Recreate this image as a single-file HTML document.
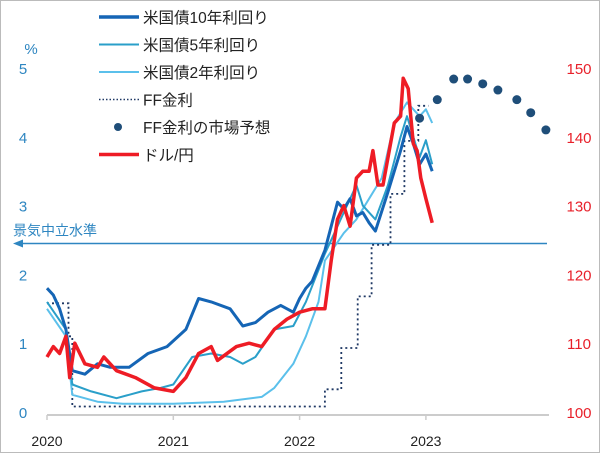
<!DOCTYPE html>
<html><head><meta charset="utf-8"><style>
body{margin:0;background:#fff;}
#wrap{width:598px;height:451px;border:1px solid #bbb;position:relative;overflow:hidden;font-family:"Liberation Sans","Noto Sans CJK JP",sans-serif;}
text{font-family:"Liberation Sans","Noto Sans CJK JP",sans-serif;}
</style></head><body>
<div id="wrap">
<svg id="c" width="598" height="451"></svg>
</div>
<script>
const t10=[2020,2020.05,2020.1,2020.15,2020.2,2020.3,2020.4,2020.5,2020.65,2020.8,2020.95,2021.1,2021.2,2021.3,2021.45,2021.55,2021.65,2021.75,2021.85,2021.95,2022.0,2022.05,2022.1,2022.2,2022.3,2022.35,2022.4,2022.45,2022.5,2022.55,2022.6,2022.7,2022.8,2022.85,2022.9,2022.95,2023.0,2023.05];
const y10=[1.8,1.7,1.5,1.2,0.6,0.55,0.7,0.65,0.65,0.85,0.95,1.2,1.65,1.6,1.5,1.25,1.3,1.45,1.55,1.45,1.65,1.8,1.9,2.35,3.05,2.95,3.1,2.85,2.9,2.75,2.63,3.2,3.8,4.15,3.9,3.6,3.75,3.5];
const t5=[2020,2020.15,2020.2,2020.35,2020.55,2020.75,2020.9,2021.0,2021.15,2021.3,2021.45,2021.55,2021.65,2021.8,2021.95,2022.05,2022.2,2022.35,2022.45,2022.5,2022.6,2022.7,2022.8,2022.85,2022.9,2022.95,2023.0,2023.05];
const y5=[1.6,1.2,0.4,0.3,0.2,0.3,0.35,0.4,0.8,0.85,0.8,0.7,0.8,1.2,1.25,1.6,2.3,2.9,3.3,3.0,2.8,3.3,4.0,4.3,4.0,3.7,3.95,3.6];
const t2=[2020,2020.15,2020.2,2020.4,2020.6,2021.0,2021.4,2021.7,2021.8,2021.95,2022.05,2022.15,2022.2,2022.35,2022.45,2022.55,2022.65,2022.75,2022.85,2022.95,2023.0,2023.05];
const y2=[1.5,1.1,0.25,0.15,0.12,0.12,0.15,0.22,0.35,0.7,1.1,1.6,2.2,2.6,2.8,3.1,3.4,4.2,4.5,4.3,4.4,4.2];
const tff=[2020,2020.17,2020.2,2022.2,2022.33,2022.46,2022.57,2022.72,2022.83,2022.94,2023.02];
const yff=[1.58,1.1,0.08,0.33,0.93,1.68,2.43,3.17,3.94,4.45,4.45];
const tfc=[2022.95,2023.09,2023.22,2023.33,2023.45,2023.57,2023.72,2023.83,2023.95];
const yfc=[4.27,4.54,4.84,4.84,4.77,4.68,4.54,4.35,4.1];
const tjp=[2020,2020.05,2020.1,2020.15,2020.18,2020.22,2020.3,2020.4,2020.45,2020.55,2020.7,2020.85,2021.0,2021.1,2021.2,2021.3,2021.35,2021.5,2021.6,2021.7,2021.8,2021.9,2022.0,2022.1,2022.2,2022.25,2022.3,2022.35,2022.4,2022.45,2022.5,2022.55,2022.58,2022.62,2022.66,2022.7,2022.75,2022.8,2022.82,2022.86,2022.9,2022.93,2022.96,2023.0,2023.05];
const yjp=[108,109.5,108.5,111,105,110,107,106.5,108,106,105,103.5,103,105,108.5,109.5,107.5,109.5,110,109.5,112,113.5,114.5,115,115,122,128,130,127,134,135,135,138,133,133,137,142,143,148.5,147,139,138,134,131,127.5];
const leftTicks=[0,1,2,3,4,5];
const rightTicks=[100,110,120,130,140,150];
const xTicks=[2020,2021,2022,2023];
const neutral=2.45;

const svg=document.getElementById('c');
const NS='http://www.w3.org/2000/svg';
const X=t=>46+(t-2020)*126.3;
const YL=v=>411-v*68.8;
const YR=v=>411-(v-100)*6.88;
function el(tag,attrs){const e=document.createElementNS(NS,tag);for(const k in attrs)e.setAttribute(k,attrs[k]);svg.appendChild(e);return e;}
function txt(x,y,s,fill,size,anchor){const e=el('text',{x:x,y:y,fill:fill,'font-size':size,'text-anchor':anchor||'start'});e.textContent=s;return e;}

let ax=el('line',{x1:46,y1:414,x2:548,y2:414,stroke:'#ccc','stroke-width':2});


xTicks.forEach(t=>{
 let tk=el('line',{x1:X(t),y1:414,x2:X(t),y2:419,stroke:'#ccc','stroke-width':1.5});
 
 
 let l=txt(X(t),445,String(t),'#222',14,'middle');
 
 
});
leftTicks.forEach(v=>{
 let l=txt(22,YL(v)+6,String(v),'#2e86c1',15,'middle');
 
 
});
let pct=txt(30,53,'%','#2e86c1',15,'middle');


rightTicks.forEach(v=>{
 let l=txt(578,YR(v)+6,String(v),'#e8202a',15,'middle');
 
 
});

let nl=el('line',{x1:20,y1:YL(neutral),x2:546,y2:YL(neutral),stroke:'#2e86c1','stroke-width':1.5});


let ar=el('polygon',{points:`12,${YL(neutral)} 22,${YL(neutral)-4} 22,${YL(neutral)+4}`,fill:'#2e86c1'});


let nt=txt(12,YL(neutral)-8,'景気中立水準','#2e86c1',14);



function line(ts,vs,Y,color,w,name){
 const d=ts.map((t,i)=>(i?'L':'M')+X(t).toFixed(1)+','+Y(vs[i]).toFixed(1)).join('');
 const p=el('path',{d:d,fill:'none',stroke:color,'stroke-width':w,'stroke-linejoin':'round'});
 
 
}
{
 let d='M'+X(tff[0])+','+YL(yff[0]);
 for(let i=1;i<tff.length;i++){d+='L'+X(tff[i]).toFixed(1)+','+YL(yff[i-1]).toFixed(1)+'L'+X(tff[i]).toFixed(1)+','+YL(yff[i]).toFixed(1);}
 const p=el('path',{d:d,fill:'none',stroke:'#1f3864','stroke-width':1.8,'stroke-dasharray':'2,3'});
 
 
}
line(t2,y2,YL,'#5bc0eb',2,'us-2y-line');
line(t5,y5,YL,'#2a9fc9',2,'us-5y-line');
line(t10,y10,YL,'#1565b5',3,'us-10y-line');
line(tjp,yjp,YR,'#ee1c25',3.5,'usdjpy-line');
tfc.forEach((t,i)=>{
 const c=el('circle',{cx:X(t),cy:YL(yfc[i]),r:4.5,fill:'#1f4e79'});
 
 
});

const leg=[['米国債10年利回り','#1565b5',3.5,'line'],['米国債5年利回り','#2a9fc9',2,'line'],['米国債2年利回り','#5bc0eb',2,'line'],['FF金利','#1f3864',1.5,'dot'],['FF金利の市場予想','#1f4e79',0,'circle'],['ドル/円','#ee1c25',3.5,'line']];
leg.forEach((L,i)=>{
 const y=16+i*27.5;
 if(L[3]==='circle'){const c=el('circle',{cx:117,cy:y,r:4,fill:L[1]});}
 else{const m=el('line',{x1:98,y1:y,x2:138,y2:y,stroke:L[1],'stroke-width':L[2]});if(L[3]==='dot')m.setAttribute('stroke-dasharray','1.5,2');}
 const t=txt(142,y+6,L[0],'#222',15.5);
 
 
});
</script>
</body></html>
